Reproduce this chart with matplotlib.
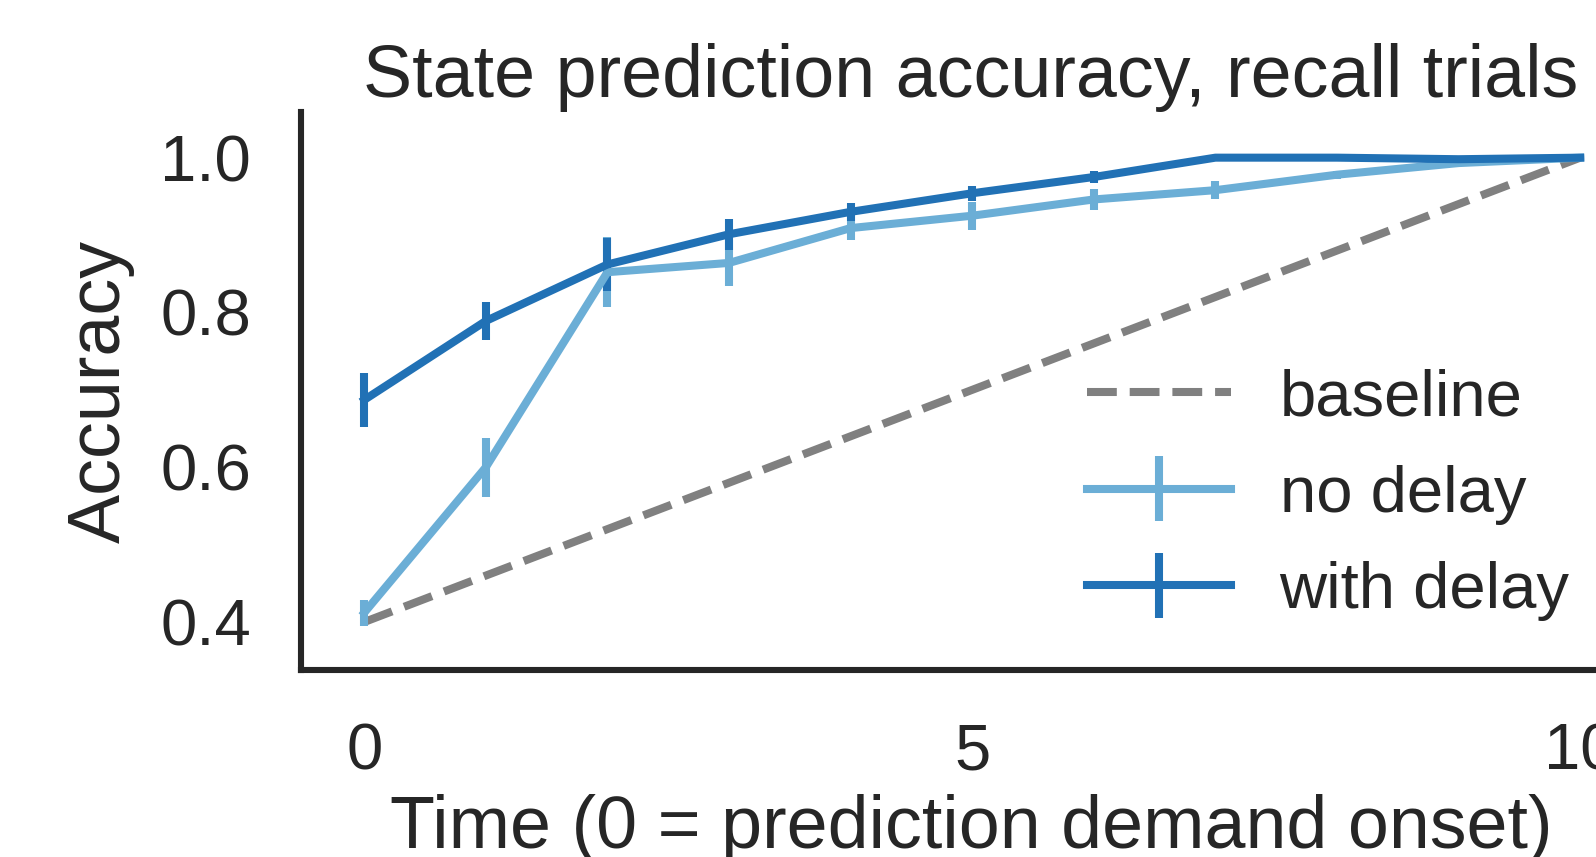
import numpy as np
import matplotlib
matplotlib.use("Agg")
import matplotlib.pyplot as plt

# data
time = [0, 1, 2, 3, 4, 5, 6, 7, 8, 9, 10]
baseline = [0.40, 0.46, 0.52, 0.58, 0.64, 0.70, 0.76, 0.82, 0.88, 0.94, 1.00]
no_delay = [0.412, 0.600, 0.852, 0.864, 0.909, 0.925, 0.946, 0.958, 0.978, 0.993, 1.000]
no_delay_err = [0.017, 0.038, 0.045, 0.030, 0.015, 0.018, 0.013, 0.012, 0.005, 0.004, 0.003]
with_delay = [0.687, 0.789, 0.862, 0.901, 0.930, 0.954, 0.975, 1.000, 1.000, 0.998, 1.000]
with_delay_err = [0.035, 0.025, 0.034, 0.020, 0.012, 0.010, 0.008, 0.004, 0.002, 0.002, 0.002]
xticks = [0, 5, 10]
yticks = [0.4, 0.6, 0.8, 1.0]

plt.rcParams["font.family"] = ["Liberation Sans", "DejaVu Sans"]
plt.rcParams["text.color"] = "#262626"
plt.rcParams["axes.labelcolor"] = "#262626"
plt.rcParams["xtick.color"] = "#262626"
plt.rcParams["ytick.color"] = "#262626"

W, H = 1596, 857
fig = plt.figure(figsize=(W / 100, H / 100), dpi=100)
# axes runs past the right edge of the figure, as in the reference
left, right, bottom, top = 301, 1641, 670, 112
ax = fig.add_axes([left / W, (H - bottom) / H, (right - left) / W, (bottom - top) / H])

lw = 5.8
ax.plot(time, baseline, "--", color="#808080", lw=lw, label="baseline")
ax.errorbar(time, no_delay, yerr=no_delay_err, color="#6baed6", lw=lw,
            elinewidth=lw, capsize=0, label="no delay")
ax.errorbar(time, with_delay, yerr=with_delay_err, color="#2171b5", lw=lw,
            elinewidth=lw, capsize=0, label="with delay")

ax.set_xlim(-0.52, 10.5)
ax.set_ylim(0.338, 1.059)
ax.set_xticks(xticks)
ax.set_yticks(yticks)
ax.set_yticklabels([f"{v:.1f}" for v in yticks])
ax.tick_params(length=0, labelsize=47)
ax.tick_params(axis="y", pad=36)
ax.tick_params(axis="x", pad=38)

for s in ["top", "right"]:
    ax.spines[s].set_visible(False)
for s in ["left", "bottom"]:
    ax.spines[s].set_linewidth(4.4)
    ax.spines[s].set_color("#262626")

ax.set_title("State prediction accuracy, recall trials", fontsize=53, pad=10)
ax.set_xlabel("Time (0 = prediction demand onset)", fontsize=53, labelpad=8)
ax.set_ylabel("Accuracy", fontsize=53, labelpad=18)

ax.legend(loc="upper left", bbox_to_anchor=(1087 / W, (H - 368) / H),
          bbox_transform=fig.transFigure, frameon=False, fontsize=47,
          handlelength=2.2, handletextpad=0.75, labelspacing=0.56,
          borderpad=0, borderaxespad=0)

fig.savefig("out.png", dpi=100)
